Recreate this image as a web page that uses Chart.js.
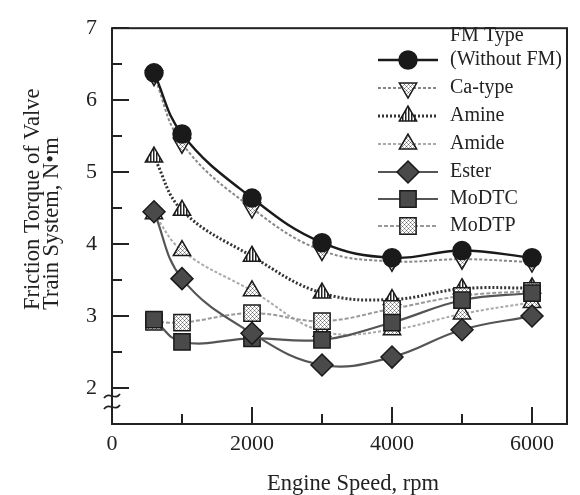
<!DOCTYPE html>
<html><head><meta charset="utf-8">
<script src="https://cdn.jsdelivr.net/npm/chart.js@4/dist/chart.umd.min.js"></script>
<style>html,body{margin:0;padding:0;background:#fff}#wrap{width:580px;height:495px}</style>
</head><body><div id="wrap"><canvas id="c" width="580" height="495"></canvas></div>
<script>
// ---- data ----
const speeds = [600, 1000, 2000, 3000, 4000, 5000, 6000];
const withoutFM = [6.38, 5.53, 4.64, 4.02, 3.81, 3.91, 3.81];
const caType    = [6.34, 5.40, 4.50, 3.91, 3.76, 3.79, 3.75];
const amine     = [5.21, 4.47, 3.83, 3.32, 3.23, 3.38, 3.39];
const amide     = [4.42, 3.91, 3.35, 2.79, 2.81, 3.03, 3.19];
const ester     = [4.45, 3.52, 2.76, 2.32, 2.43, 2.81, 3.00];
const moDTC     = [2.95, 2.64, 2.69, 2.67, 2.91, 3.22, 3.32];
const moDTP     = [2.92, 2.91, 3.04, 2.93, 3.10, 3.28, 3.35];
const seriesNames = ['(Without FM)', 'Ca-type', 'Amine', 'Amide', 'Ester', 'MoDTC', 'MoDTP'];
const legendTitle = 'FM Type';
const xTicks = [0, 1000, 2000, 3000, 4000, 5000, 6000];
const xTickLabels = ['0', '', '2000', '', '4000', '', '6000'];
const yTicks = [2, 2.5, 3, 3.5, 4, 4.5, 5, 5.5, 6, 6.5, 7];
const yTickLabels = ['2', '', '3', '', '4', '', '5', '', '6', '', '7'];
const xTitle = 'Engine Speed, rpm';
const yTitle = ['Friction Torque of Valve', 'Train System, N\u2022m'];

// ---- patterns ----
function makePattern(draw, w, h) {
  const c = document.createElement('canvas');
  c.width = w; c.height = h;
  const g = c.getContext('2d');
  g.fillStyle = '#fff'; g.fillRect(0, 0, w, h);
  draw(g);
  return document.getElementById('c').getContext('2d').createPattern(c, 'repeat');
}
const hatch = makePattern(g => {
  g.fillStyle = '#666';
  g.fillRect(0, 0, 1, 1); g.fillRect(2, 2, 1, 1);
  g.fillStyle = '#aaa';
  g.fillRect(1, 1, 1, 1); g.fillRect(3, 3, 1, 1); g.fillRect(1, 3, 1, 1); g.fillRect(3, 1, 1, 1);
}, 4, 4);
const stripes = makePattern(g => {
  g.fillStyle = '#222'; g.fillRect(0, 0, 1.5, 1);
}, 3, 1);

const pts = arr => speeds.map((x, i) => ({ x: x, y: arr[i] }));
const styles = [
  { data: withoutFM, line: '#1a1a1a', w: 2.4, dash: [], ps: 'circle', r: 9, rot: 0, fill: '#1a1a1a', order: 0 },
  { data: caType, line: '#888', w: 2, dash: [3, 2], ps: 'triangle', r: 10, rot: 180, fill: hatch, order: 1 },
  { data: amine, line: '#333', w: 3, dash: [2, 2], ps: 'triangle', r: 10, rot: 0, fill: stripes, order: 5 },
  { data: amide, line: '#aaa', w: 2, dash: [3, 2], ps: 'triangle', r: 10, rot: 0, fill: hatch, order: 6 },
  { data: ester, line: '#555', w: 2.2, dash: [], ps: 'rectRot', r: 11, rot: 0, fill: '#4a4a4a', order: 2 },
  { data: moDTC, line: '#555', w: 2.2, dash: [], ps: 'rect', r: 11.5, rot: 0, fill: '#4a4a4a', order: 3 },
  { data: moDTP, line: '#999', w: 2, dash: [4, 2], ps: 'rect', r: 11.5, rot: 0, fill: hatch, order: 4 }
];

const datasets = styles.map((s, i) => ({
  label: seriesNames[i],
  data: pts(s.data),
  borderColor: s.line,
  borderWidth: s.w,
  borderDash: s.dash,
  tension: 0.4,
  fill: false,
  pointStyle: s.ps,
  pointRadius: s.r,
  pointHoverRadius: s.r,
  pointRotation: s.rot,
  pointBackgroundColor: s.fill,
  pointBorderColor: '#1a1a1a',
  pointBorderWidth: 1.5,
  order: s.order,
  clip: false
}));

const SERIF = '"Liberation Serif", "DejaVu Serif", serif';

function drawMarker(ctx, s, x, y) {
  ctx.save();
  ctx.fillStyle = s.fill; ctx.strokeStyle = '#1a1a1a'; ctx.lineWidth = 1.5; ctx.setLineDash([]);
  ctx.beginPath();
  const r = s.r;
  if (s.ps === 'circle') {
    ctx.arc(x, y, r, 0, Math.PI * 2);
  } else if (s.ps === 'triangle') {
    const dir = s.rot === 180 ? -1 : 1;
    ctx.moveTo(x, y - dir * r);
    ctx.lineTo(x + Math.sin(2 * Math.PI / 3) * r, y + dir * r * 0.5);
    ctx.lineTo(x - Math.sin(2 * Math.PI / 3) * r, y + dir * r * 0.5);
    ctx.closePath();
  } else if (s.ps === 'rect') {
    const h = r * Math.SQRT1_2;
    ctx.rect(x - h, y - h, 2 * h, 2 * h);
  } else if (s.ps === 'rectRot') {
    ctx.moveTo(x, y - r); ctx.lineTo(x + r, y); ctx.lineTo(x, y + r); ctx.lineTo(x - r, y); ctx.closePath();
  }
  ctx.fill(); ctx.stroke();
  ctx.restore();
}

const decor = {
  id: 'decor',
  afterDraw(chart) {
    const ctx = chart.ctx;
    const a = chart.chartArea;
    const xs = chart.scales.x, ys = chart.scales.y;
    ctx.save();
    ctx.strokeStyle = '#222';
    ctx.lineWidth = 2;
    ctx.setLineDash([]);
    ctx.strokeRect(a.left, a.top, a.right - a.left, a.bottom - a.top);
    ctx.beginPath();
    yTicks.forEach(v => {
      const y = Math.round(ys.getPixelForValue(v));
      const len = Number.isInteger(v) ? 17 : 10;
      ctx.moveTo(a.left, y); ctx.lineTo(a.left + len, y);
    });
    xTicks.forEach(v => {
      const x = Math.round(xs.getPixelForValue(v));
      const len = v % 2000 === 0 ? 17 : 10;
      ctx.moveTo(x, a.bottom); ctx.lineTo(x, a.bottom - len);
    });
    ctx.stroke();
    // axis break
    ctx.lineWidth = 1.8;
    [396, 407].forEach(y => {
      ctx.beginPath();
      ctx.moveTo(a.left - 8, y + 2);
      ctx.bezierCurveTo(a.left - 3, y - 5, a.left + 3, y + 5, a.left + 8, y - 2);
      ctx.stroke();
    });
    // axis titles
    ctx.fillStyle = '#222';
    ctx.font = '22.5px ' + SERIF;
    ctx.textAlign = 'center';
    ctx.textBaseline = 'alphabetic';
    ctx.fillText(xTitle, 353, 490);
    ctx.save();
    ctx.translate(0, 310);
    ctx.rotate(-Math.PI / 2);
    ctx.textAlign = 'left';
    ctx.fillText(yTitle[0], 0, 38.5);
    ctx.fillText(yTitle[1], 0, 57.5);
    ctx.restore();
    // legend
    ctx.font = '20px ' + SERIF;
    ctx.textAlign = 'left';
    ctx.textBaseline = 'middle';
    ctx.fillText(legendTitle, 450, 36);
    const ly = [60, 88, 116, 144, 172, 199, 226];
    styles.forEach((s, i) => {
      ctx.save();
      ctx.strokeStyle = s.line; ctx.lineWidth = s.w; ctx.setLineDash(s.dash);
      ctx.beginPath(); ctx.moveTo(378, ly[i]); ctx.lineTo(438, ly[i]); ctx.stroke();
      ctx.restore();
      drawMarker(ctx, s, 408, ly[i]);
      ctx.fillStyle = '#222';
      ctx.fillText(seriesNames[i], 450, ly[i]);
    });
    ctx.restore();
  }
};

new Chart(document.getElementById('c'), {
  type: 'line',
  data: { datasets: datasets },
  options: {
    responsive: false,
    animation: false,
    layout: { padding: { left: 0, right: 9, top: 15, bottom: 0 } },
    plugins: { legend: { display: false }, tooltip: { enabled: false } },
    scales: {
      x: {
        type: 'linear', min: 0, max: 6500,
        afterBuildTicks: s => { s.ticks = xTicks.map(v => ({ value: v })); },
        afterFit: s => { s.height = 71; },
        grid: { display: false, drawTicks: false },
        border: { display: false },
        ticks: { autoSkip: false, maxRotation: 0, padding: 7, color: '#222',
                 font: { family: SERIF, size: 22 },
                 callback: (v, i) => xTickLabels[i] }
      },
      y: {
        type: 'linear', min: 1.5, max: 7,
        afterBuildTicks: s => { s.ticks = yTicks.map(v => ({ value: v })); },
        afterFit: s => { s.width = 112; },
        grid: { display: false, drawTicks: false },
        border: { display: false },
        ticks: { autoSkip: false, padding: 15, color: '#222',
                 font: { family: SERIF, size: 22 },
                 callback: (v, i) => yTickLabels[i] }
      }
    }
  },
  plugins: [decor]
});
</script></body></html>
